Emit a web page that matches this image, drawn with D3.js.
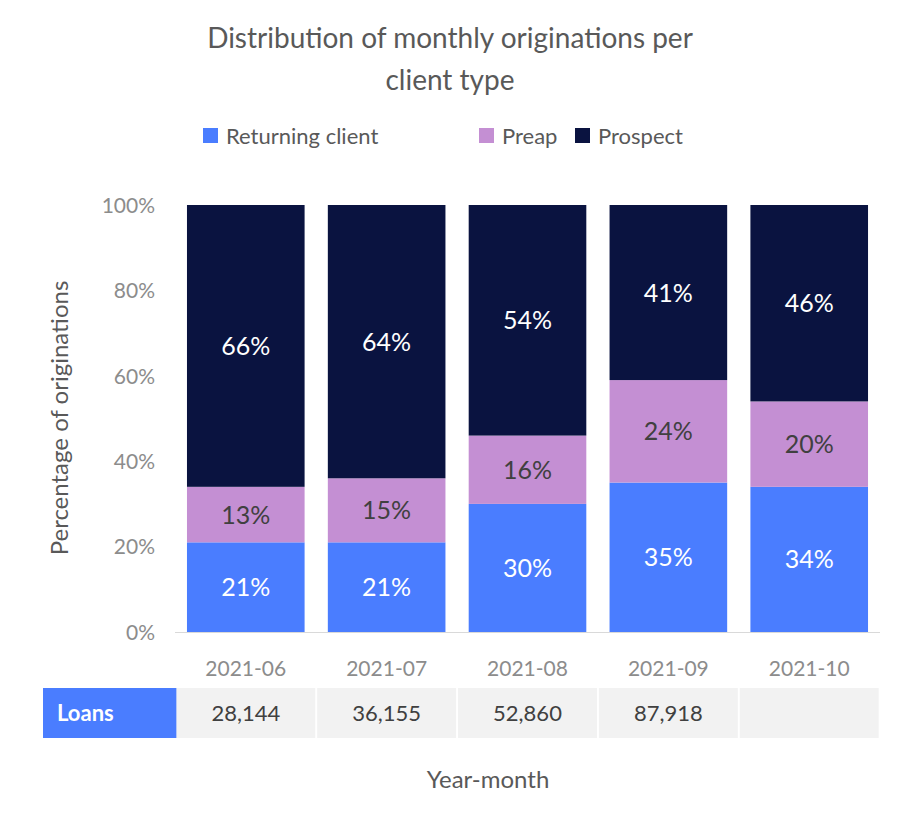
<!DOCTYPE html>
<html><head><meta charset="utf-8">
<script src="https://cdn.jsdelivr.net/npm/d3@7"></script>
<style>body{margin:0;background:#fff;font-family:Lato,"Noto Sans",sans-serif}</style>
</head><body><div id="chart"></div>
<script>
// data
const months = ["2021-06", "2021-07", "2021-08", "2021-09", "2021-10"];
const returning = [21, 21, 30, 35, 34];
const preap = [13, 15, 16, 24, 20];
const prospect = [66, 64, 54, 41, 46];
const loans = ["28,144", "36,155", "52,860", "87,918", ""];
const yTicks = [0, 20, 40, 60, 80, 100];

const seriesNames = ["Returning client", "Preap", "Prospect"];
const colors = ["#4a7dff", "#c48fd3", "#0a1340"];

const width = 900, height = 818;
const svg = d3.select("#chart").append("svg").attr("width", width).attr("height", height);

//^ TITLE //
svg.append("text").attr("x", 450).attr("y", 48).attr("text-anchor", "middle")
    .attr("font-size", 28).attr("fill", "#595959").text("Distribution of monthly originations per");
svg.append("text").attr("x", 450).attr("y", 90).attr("text-anchor", "middle")
    .attr("font-size", 28).attr("fill", "#595959").text("client type");

//^ LEGEND //
const legendX = [203, 479, 575];
seriesNames.forEach((n, i) => {
    svg.append("rect").attr("x", legendX[i]).attr("y", 128).attr("width", 15).attr("height", 15).attr("fill", colors[i]);
    svg.append("text").attr("x", legendX[i] + 23).attr("y", 144).attr("font-size", 22).attr("fill", "#595959").text(n);
});

//^ SCALES //
const x = d3.scaleBand().domain(months).range([175, 880]).paddingInner(0.165).paddingOuter(0.085);
const y = d3.scaleLinear().domain([0, 100]).range([632, 205]);

const yAxis = svg.append("g").attr("transform", "translate(158,0)")
    .call(d3.axisLeft(y).tickValues(yTicks).tickFormat(d => d + "%").tickSize(0));
yAxis.select(".domain").remove();
yAxis.selectAll("text").attr("font-size", 21).attr("fill", "#8c8c8c").attr("font-family", "Lato,sans-serif").attr("dy", "0.35em");

svg.append("text").attr("transform", "rotate(-90)").attr("x", -418).attr("y", 68)
    .attr("text-anchor", "middle").attr("font-size", 24).attr("fill", "#595959").text("Percentage of originations");

//^ BARS //
const table = months.map((m, i) => ({ m, v: [returning[i], preap[i], prospect[i]] }));
const stacked = d3.stack().keys([0, 1, 2]).value((d, k) => d.v[k])(table);
stacked.forEach((layer, k) => {
    const g = svg.append("g");
    g.selectAll("rect").data(layer).enter().append("rect")
        .attr("x", d => x(d.data.m)).attr("width", x.bandwidth())
        .attr("y", d => y(d[1])).attr("height", d => y(d[0]) - y(d[1]))
        .attr("fill", colors[k]);
    g.selectAll("text").data(layer).enter().append("text")
        .attr("x", d => x(d.data.m) + x.bandwidth() / 2)
        .attr("y", d => (y(d[0]) + y(d[1])) / 2 + 9)
        .attr("text-anchor", "middle").attr("font-size", 25)
        .attr("fill", k === 1 ? "#404040" : "#fff")
        .text(d => d.data.v[k] + "%");
});

svg.append("line").attr("x1", 175).attr("x2", 880).attr("y1", 632.5).attr("y2", 632.5).attr("stroke", "#d9d9d9");

//^ X LABELS //
months.forEach(m => {
    svg.append("text").attr("x", x(m) + x.bandwidth() / 2).attr("y", 676).attr("text-anchor", "middle")
        .attr("font-size", 21).attr("fill", "#8c8c8c").text(m);
});

//^ LOANS TABLE //
svg.append("rect").attr("x", 43).attr("y", 688).attr("width", 142).attr("height", 50).attr("fill", "#4a7dff");
svg.append("text").attr("x", 57).attr("y", 721).attr("font-size", 22).attr("font-weight", "bold").attr("fill", "#fff").text("Loans");
const step = x.step();
months.forEach((m, i) => {
    const cx = x(m) + x.bandwidth() / 2;
    svg.append("rect").attr("x", cx - step / 2 + 1).attr("y", 688).attr("width", step - 2).attr("height", 50).attr("fill", "#f2f2f2");
    svg.append("text").attr("x", cx).attr("y", 721).attr("text-anchor", "middle").attr("font-size", 22).attr("fill", "#404040").text(loans[i]);
});

svg.append("text").attr("x", 488).attr("y", 788).attr("text-anchor", "middle").attr("font-size", 24).attr("fill", "#595959").text("Year-month");
</script></body></html>
